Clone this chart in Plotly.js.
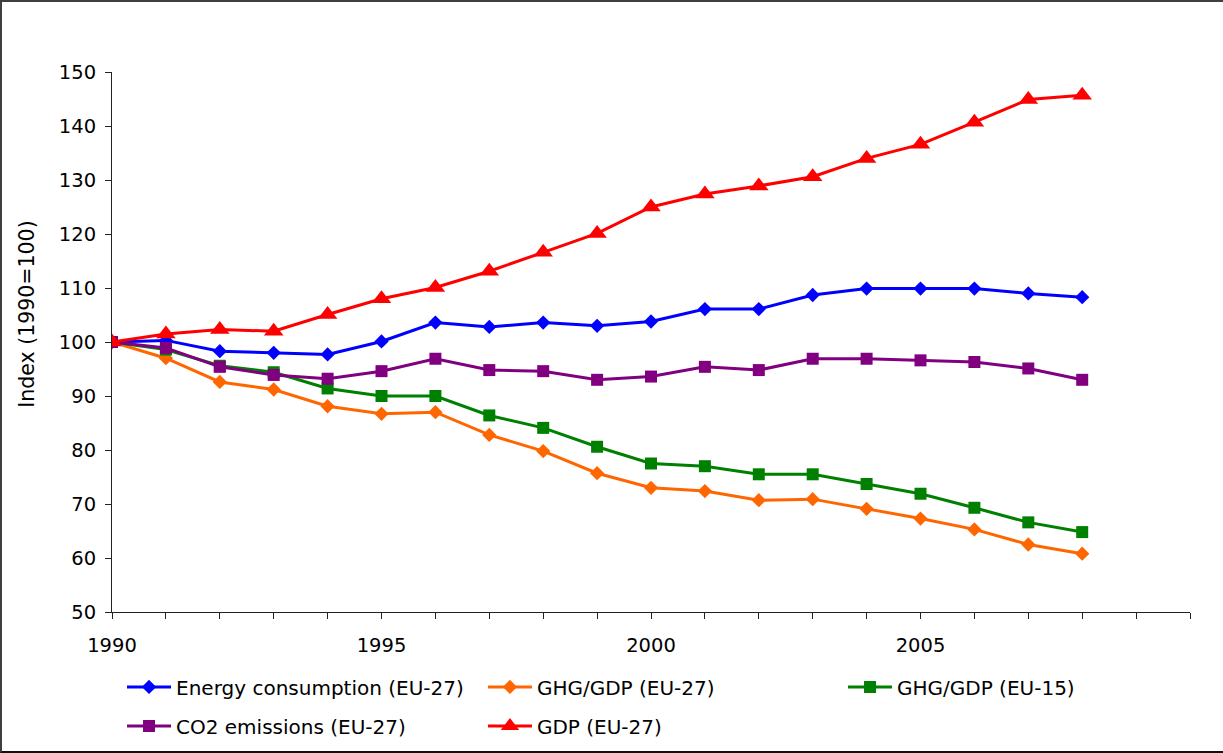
<!DOCTYPE html>
<html>
<head>
<meta charset="utf-8">
<script src="https://cdn.plot.ly/plotly-3.0.1.min.js"></script>
<style>
  html, body { margin: 0; padding: 0; background: #fff; }
  #frame {
    width: 1221px; height: 749px;
    border-top: 2px solid #3f3f3f;
    border-left: 2px solid #3f3f3f;
    border-bottom: 2px solid #111;
  }
  #chart { width: 1221px; height: 749px; }
</style>
</head>
<body>
<div id="frame"><div id="chart"></div></div>
<script>
// Years of the index series
const years = [1990, 1991, 1992, 1993, 1994, 1995, 1996, 1997, 1998, 1999,
               2000, 2001, 2002, 2003, 2004, 2005, 2006, 2007, 2008];

// Index values, 1990 = 100
const energyConsumptionEU27 = [100, 100.3, 98.3, 98.0, 97.7, 100.1, 103.6, 102.8, 103.6, 103.0,
                               103.8, 106.1, 106.1, 108.7, 109.9, 109.9, 109.9, 109.0, 108.3];
const ghgPerGdpEU27 = [100, 97.0, 92.6, 91.2, 88.1, 86.7, 87.0, 82.8, 79.8, 75.7,
                       73.0, 72.4, 70.7, 70.9, 69.1, 67.3, 65.3, 62.5, 60.8];
const ghgPerGdpEU15 = [100, 98.6, 95.6, 94.4, 91.4, 90.0, 90.0, 86.4, 84.1, 80.6,
                       77.5, 77.0, 75.5, 75.5, 73.7, 71.9, 69.3, 66.6, 64.8];
const co2EmissionsEU27 = [100, 98.9, 95.4, 93.9, 93.2, 94.6, 96.9, 94.8, 94.6, 93.0,
                          93.6, 95.4, 94.8, 96.9, 96.9, 96.6, 96.3, 95.1, 93.0];
const gdpEU27 = [100, 101.5, 102.3, 102.0, 105.1, 108.0, 110.1, 113.1, 116.6, 120.1,
                 125.0, 127.4, 128.9, 130.6, 134.0, 136.6, 140.7, 144.9, 145.7];

// Series names
const seriesNames = ['Energy consumption (EU-27)', 'GHG/GDP (EU-27)', 'GHG/GDP (EU-15)',
                     'CO2 emissions (EU-27)', 'GDP (EU-27)'];

// Labelled x ticks and y ticks
const xTickYears = [1990, 1995, 2000, 2005];
const yTickValues = [50, 60, 70, 80, 90, 100, 110, 120, 130, 140, 150];

const FONT = '"DejaVu Sans", Verdana, sans-serif';

function series(name, y, color, symbol, size, legendId) {
  return {
    type: 'scatter', mode: 'lines+markers',
    name: name, x: years, y: y,
    line: { color: color, width: 3 },
    marker: { color: color, symbol: symbol, size: size },
    legend: legendId,
    hoverinfo: 'x+y+name'
  };
}

// Each legend entry sits in its own box so the two-row grid is laid out exactly
const traces = [
  series(seriesNames[0], energyConsumptionEU27, '#0000ff', 'diamond', 11, 'legend'),
  series(seriesNames[1], ghgPerGdpEU27, '#ff6600', 'diamond', 11, 'legend2'),
  series(seriesNames[2], ghgPerGdpEU15, '#008000', 'square', 12, 'legend3'),
  series(seriesNames[3], co2EmissionsEU27, '#800080', 'square', 12, 'legend4'),
  series(seriesNames[4], gdpEU27, '#ff0000', 'triangle-up', 17, 'legend5')
];

// Legend boxes are placed relative to the whole figure so they never squeeze the plot area
function legendBox(x, y) {
  return {
    orientation: 'h',
    xref: 'container', yref: 'container',
    x: x, xanchor: 'left',
    y: y, yanchor: 'middle',
    itemwidth: 44,
    font: { family: FONT, size: 20, color: '#000' },
    bgcolor: 'rgba(0,0,0,0)',
    borderwidth: 0
  };
}

const col1 = 0.0983, col2 = 0.3939, col3 = 0.6888;
const row1 = 0.0855, row2 = 0.0334;

const layout = {
  width: 1221, height: 749,
  margin: { l: 110, r: 33, t: 70, b: 139 },
  paper_bgcolor: '#fff', plot_bgcolor: '#fff',
  font: { family: FONT, color: '#000' },
  showlegend: true,
  xaxis: {
    range: [1990, 2010],
    tickmode: 'array',
    tickvals: xTickYears,
    ticktext: xTickYears.map(String),
    ticks: 'outside', ticklen: 6, tickwidth: 1, tickcolor: '#222',
    minor: { tickmode: 'linear', tick0: 1990, dtick: 1, ticks: 'outside', ticklen: 6, tickwidth: 1, tickcolor: '#222' },
    showline: true, linecolor: '#222', linewidth: 1,
    showgrid: false, zeroline: false,
    tickfont: { family: FONT, size: 19.5, color: '#000' },
    ticklabelstandoff: 10
  },
  yaxis: {
    range: [50, 150],
    tickmode: 'array',
    tickvals: yTickValues,
    ticktext: yTickValues.map(String),
    ticks: 'outside', ticklen: 6, tickwidth: 1, tickcolor: '#222',
    showline: true, linecolor: '#222', linewidth: 1,
    showgrid: false, zeroline: false,
    tickfont: { family: FONT, size: 19.5, color: '#000' },
    ticklabelstandoff: 5
  },
  legend: legendBox(col1, row1),
  legend2: legendBox(col2, row1),
  legend3: legendBox(col3, row1),
  legend4: legendBox(col1, row2),
  legend5: legendBox(col2, row2),
  annotations: [{
    text: 'Index (1990=100)',
    xref: 'paper', yref: 'paper',
    x: -0.079, y: 0.552,
    xanchor: 'center', yanchor: 'middle',
    textangle: -90, showarrow: false,
    font: { family: FONT, size: 20.5, color: '#000' }
  }]
};

Plotly.newPlot('chart', traces, layout, { displayModeBar: false, staticPlot: true });
</script>
</body>
</html>
